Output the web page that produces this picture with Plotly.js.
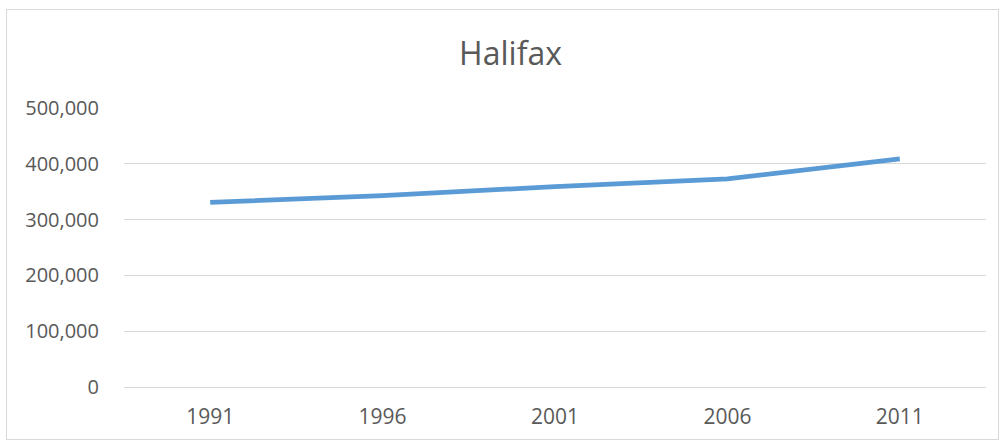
<!DOCTYPE html>
<html>
<head>
<meta charset="utf-8">
<script src="https://cdn.plot.ly/plotly-3.0.1.min.js"></script>
<style>
  html, body { margin: 0; padding: 0; background: #fff; }
  #wrap { position: relative; width: 1003px; height: 442px; }
  #chart { position: absolute; left: 0; top: 0; width: 1003px; height: 442px; }
  #border { position: absolute; left: 6px; top: 9px; width: 993px; height: 431px;
            border: 1px solid #d9d9d9; pointer-events: none; box-sizing: border-box; }
</style>
</head>
<body>
<div id="wrap">
  <div id="chart"></div>
  <div id="border"></div>
</div>
<script>
const years = ["1991", "1996", "2001", "2006", "2011"];
const population = [330846, 342966, 359183, 372858, 408702];
const chartTitle = "Halifax";
const yTicks = [0, 100000, 200000, 300000, 400000, 500000];

const textColor = "#595959";
const gridColor = "#d9d9d9";
const fontFamily = "'Open Sans', 'Liberation Sans', sans-serif";

const trace = {
  type: "scatter",
  mode: "lines",
  x: years,
  y: population,
  line: { color: "#5b9bd5", width: 4.8, shape: "linear" },
  hoverinfo: "x+y"
};

const layout = {
  width: 1003,
  height: 442,
  paper_bgcolor: "rgba(0,0,0,0)",
  plot_bgcolor: "rgba(0,0,0,0)",
  margin: { l: 124, r: 17, t: 108, b: 55 },
  showlegend: false,
  font: { family: fontFamily, color: textColor, size: 20 },
  title: {
    text: chartTitle,
    font: { family: fontFamily, size: 32, color: textColor },
    x: 0.509, xref: "container", xanchor: "center",
    y: 1 - 54 / 442, yref: "container", yanchor: "middle"
  },
  xaxis: {
    type: "category",
    range: [-0.5, 4.5],
    showgrid: false,
    zeroline: false,
    showline: true,
    linecolor: gridColor,
    linewidth: 1,
    ticks: "outside",
    ticklen: 11,
    tickcolor: "rgba(0,0,0,0)",
    tickfont: { family: fontFamily, size: 21, color: textColor },
    fixedrange: true
  },
  yaxis: {
    range: [0, 500000],
    tickvals: yTicks,
    tickformat: ",",
    showgrid: true,
    gridcolor: gridColor,
    gridwidth: 1,
    zeroline: false,
    showline: false,
    ticks: "outside",
    ticklen: 20,
    tickcolor: "rgba(0,0,0,0)",
    tickfont: { family: fontFamily, size: 20, color: textColor },
    fixedrange: true
  }
};

Plotly.newPlot("chart", [trace], layout, { displayModeBar: false, staticPlot: true });
</script>
</body>
</html>
